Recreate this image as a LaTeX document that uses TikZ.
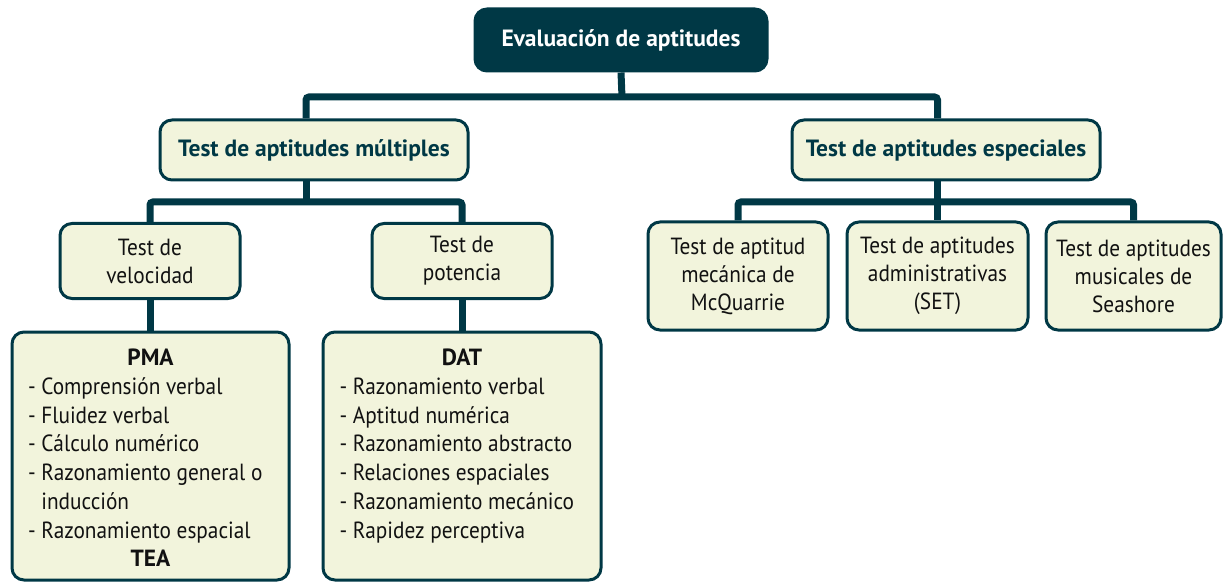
\documentclass[tikz,border=0pt]{standalone}
\usepackage{fontspec}
\setmainfont{PT Sans}[FakeStretch=0.91]
\newfontfamily\hdfamily{PT Sans}
\definecolor{teal}{RGB}{0,56,69}
\definecolor{cream}{RGB}{242,244,220}
\definecolor{ink}{RGB}{17,17,17}
\newcommand{\regfont}{\fontsize{23.4}{28}\selectfont}
\newcommand{\boldfont}{\hdfamily\fontsize{23.5}{26}\selectfont\bfseries}
\newcommand{\listfont}{\fontsize{23.4}{28.7}\selectfont}
\newcommand{\lhead}[1]{\makebox[245pt]{\hdfamily\bfseries #1}}
\begin{document}
\begin{tikzpicture}[x=1pt,y=-1pt,
  box/.style={draw=teal, line width=3pt, fill=cream, rounded corners=12pt, inner sep=0pt, align=center, font=\regfont, text=ink},
  headbox/.style={box, font=\boldfont, text=teal},
  topbox/.style={box, fill=teal, font=\boldfont, text=white},
  listtxt/.style={inner sep=0pt, align=left, font=\listfont, text=ink},
  conn/.style={draw=teal, line width=7pt, rounded corners=3pt}]
\useasboundingbox (0,0) rectangle (1223,585);

% boxes
\node[topbox, minimum width=292pt, minimum height=62pt] (top) at (621,40) {Evaluación de aptitudes};
\node[headbox, minimum width=308pt, minimum height=60pt] (mult) at (314,150) {Test de aptitudes múltiples};
\node[headbox, minimum width=308pt, minimum height=60pt] (esp) at (946,150) {Test de aptitudes especiales};
\node[box, minimum width=180pt, minimum height=75pt] (vel) at (150,261) {Test de\\velocidad};
\node[box, minimum width=180pt, minimum height=75pt] (pot) at (462,261) {Test de\\potencia};
\node[box, minimum width=180pt, minimum height=108pt] (mc) at (738,276) {Test de aptitud\\mecánica de\\McQuarrie};
\node[box, minimum width=181pt, minimum height=108pt] (adm) at (937.5,276) {Test de aptitudes\\administrativas\\(SET)};
\node[box, minimum width=175pt, minimum height=108pt] (mus) at (1133.5,276) {Test de aptitudes\\musicales de\\Seashore};
\node[box, minimum width=277pt, minimum height=248pt] (pma) at (150.5,456) {};
\node[box, minimum width=278pt, minimum height=248pt] (dat) at (462,456) {};

% list texts
\node[listtxt, anchor=north] (pmatxt) at (150.5,349) {%
\lhead{PMA}\\
- Comprensión verbal\\
- Fluidez verbal\\
- Cálculo numérico\\
- Razonamiento general o\\
\hphantom{- }inducción\\
- Razonamiento espacial\\
\lhead{TEA}};
\node[listtxt, anchor=north] (dattxt) at (462,349) {%
\lhead{DAT}\\
- Razonamiento verbal\\
- Aptitud numérica\\
- Razonamiento abstracto\\
- Relaciones espaciales\\
- Razonamiento mecánico\\
- Rapidez perceptiva};

% connectors
\coordinate (j0) at (622,97);
\coordinate (j1) at (306,202);
\coordinate (j2) at (937.5,202);
\draw[conn] (top.south) -- (j0);
\draw[conn] ([xshift=-8pt]mult.north) |- (j0) -| (esp.north -| adm.north);
\draw[conn] ([xshift=-8pt]mult.south) -- (j1);
\draw[conn] (vel.north) |- (j1) -| (pot.north);
\draw[conn] (vel.south) -- (vel.south |- pma.north);
\draw[conn] (pot.south) -- (pot.south |- dat.north);
\draw[conn] (esp.south -| adm.north) -- (adm.north);
\draw[conn] (mc.north) |- (j2) -| (mus.north);
\end{tikzpicture}
\end{document}
